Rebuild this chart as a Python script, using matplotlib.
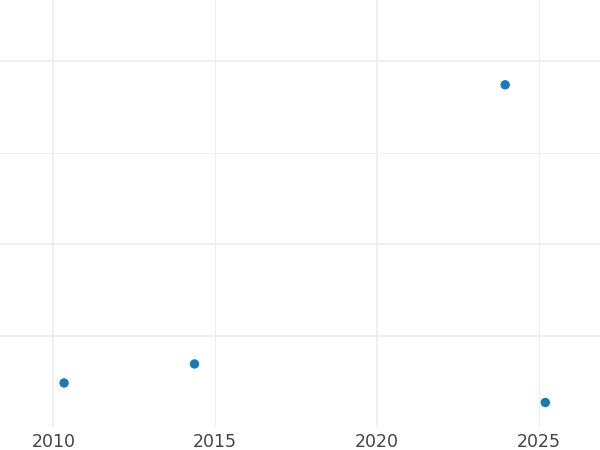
import numpy as np
import matplotlib.pyplot as plt

# data (y has no labels, arbitrary units)
years = [2010.33, 2014.36, 2023.96, 2025.2]
values = [9.75, 13.9, 74.8, 5.5]

x_major = [2010, 2020]
x_minor = [2015, 2025]
y_major = [20, 40, 80]
y_minor = [60]

fig = plt.figure(figsize=(6, 4.5), dpi=100)
ax = fig.add_axes([0, 23 / 450, 1, 427 / 450])

ax.scatter(years, values, s=46, color='#1f77b4', edgecolors='none', zorder=3)

ax.set_xlim(2008.35, 2026.89)
ax.set_ylim(0.15, 93.3)

ax.set_xticks(x_major)
ax.set_xticks(x_minor, minor=True)
ax.set_xticklabels([str(v) for v in x_major])
ax.set_xticklabels([str(v) for v in x_minor], minor=True)
ax.set_yticks(y_major)
ax.set_yticks(y_minor, minor=True)
ax.set_yticklabels([])
ax.set_yticklabels([], minor=True)

ax.tick_params(axis='both', which='both', length=0)
ax.tick_params(axis='x', which='both', pad=4.5, labelsize=12.5, labelcolor='#444444')

ax.grid(True, which='major', color='#ebebeb', linewidth=1.1)
ax.grid(True, which='minor', color='#ebebeb', linewidth=0.6)
ax.set_axisbelow(True)

for s in ax.spines.values():
    s.set_visible(False)

fig.savefig('out.png', dpi=100, facecolor='white')
